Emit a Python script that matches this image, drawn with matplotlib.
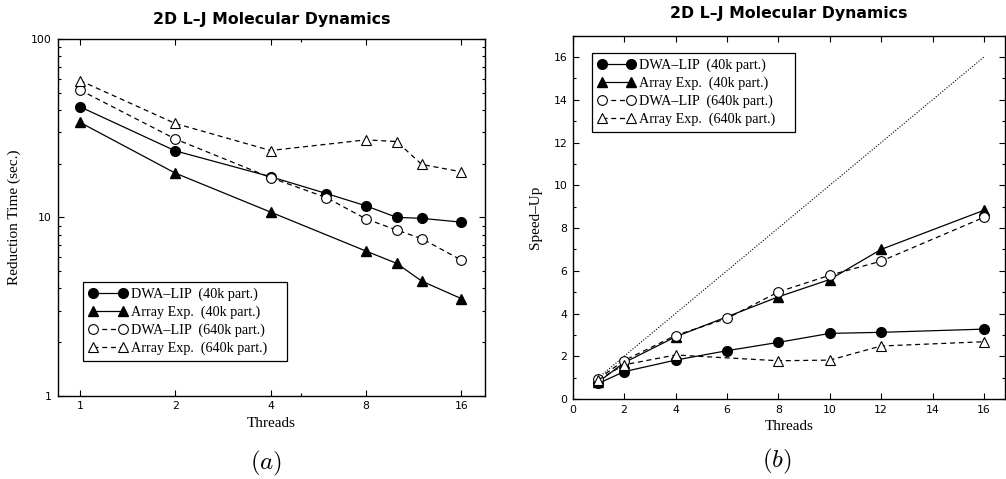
import numpy as np
import matplotlib
matplotlib.use("Agg")
import matplotlib.pyplot as plt
from matplotlib.ticker import FixedLocator, NullFormatter, MultipleLocator

plt.rcParams['mathtext.fontset'] = 'cm'

# data
thr_c = [1, 2, 4, 6, 8, 10, 12, 16]      # circle series
thr_t = [1, 2, 4, 8, 10, 12, 16]         # triangle series

# (a) reduction time, seconds
time_dwa40 = [41.7, 23.6, 16.9, 13.6, 11.6, 10.0, 9.87, 9.4]
time_arr40 = [34.1, 17.7, 10.7, 6.47, 5.52, 4.39, 3.5]
time_dwa640 = [51.8, 27.5, 16.7, 12.9, 9.8, 8.49, 7.59, 5.76]
time_arr640 = [58.5, 33.6, 23.7, 27.2, 26.6, 19.8, 18.0]

# (b) speed-up
sp_dwa40 = [0.73, 1.28, 1.82, 2.26, 2.65, 3.07, 3.12, 3.27]
sp_arr40 = [0.8, 1.7, 2.91, 4.78, 5.59, 7.0, 8.83]
sp_dwa640 = [0.95, 1.8, 2.97, 3.77, 5.01, 5.79, 6.45, 8.5]
sp_arr640 = [0.9, 1.6, 2.06, 1.79, 1.82, 2.48, 2.68]
ideal = [1, 16]

# trailing spaces give the gnuplot-like empty room at the right of the key box
labels = ['DWA\u2013LIP  (40k part.)    ', 'Array Exp.  (40k part.)    ',
          'DWA\u2013LIP  (640k part.)    ', 'Array Exp.  (640k part.)    ']

sans = 'DejaVu Sans'
serif = 'Liberation Serif'

fig = plt.figure(figsize=(10.06, 4.79), dpi=100)
ax1 = fig.add_axes([0.0572, 0.1739, 0.4249, 0.7447])
ax2 = fig.add_axes([0.5693, 0.167, 0.4302, 0.7585])

dash = (0, (4, 3))
ms = 7


def draw(ax, s1, s2, s3, s4):
    ax.plot(thr_c, s1, '-', color='k', lw=0.9, marker='o', ms=ms,
            mfc='k', mec='k', label=labels[0])
    ax.plot(thr_t, s2, '-', color='k', lw=0.9, marker='^', ms=ms,
            mfc='k', mec='k', label=labels[1])
    ax.plot(thr_c, s3, linestyle=dash, color='k', lw=0.9, marker='o', ms=ms,
            mfc='white', mec='k', mew=0.8, label=labels[2])
    ax.plot(thr_t, s4, linestyle=dash, color='k', lw=0.9, marker='^', ms=ms,
            mfc='white', mec='k', mew=0.8, label=labels[3])


def style(ax):
    ax.tick_params(which='both', direction='in', top=True, right=True,
                   labelsize=7.8, width=0.8, pad=4)
    ax.tick_params(which='major', length=4.5)
    ax.tick_params(which='minor', length=2.5)
    for lab in ax.get_xticklabels() + ax.get_yticklabels():
        lab.set_fontfamily(sans)
    for sp in ax.spines.values():
        sp.set_linewidth(1.0)


def legend(ax, **kw):
    lg = ax.legend(prop={'family': serif, 'size': 10.2}, numpoints=2,
                   handlelength=2.7, handletextpad=0.25, labelspacing=0.32,
                   borderpad=0.4, borderaxespad=0, fancybox=False,
                   framealpha=1, edgecolor='k', **kw)
    lg.get_frame().set_linewidth(0.9)


# (a)
draw(ax1, time_dwa40, time_arr40, time_dwa640, time_arr640)
ax1.set_xscale('log', base=2)
ax1.set_yscale('log')
ax1.set_xlim(0.85, 19.0)
ax1.set_ylim(1, 100)
ax1.xaxis.set_major_locator(FixedLocator([1, 2, 4, 8, 16]))
ax1.set_xticklabels(['1', '2', '4', '8', '16'])
ax1.xaxis.set_minor_locator(FixedLocator([5]))
ax1.xaxis.set_minor_formatter(NullFormatter())
ax1.yaxis.set_major_locator(FixedLocator([1, 10, 100]))
ax1.set_yticklabels(['1', '10', '100'])
ax1.yaxis.set_minor_locator(FixedLocator(
    [m * d for d in (1, 10) for m in range(2, 10)]))
ax1.yaxis.set_minor_formatter(NullFormatter())
style(ax1)
ax1.set_xlabel('Threads', family=serif, fontsize=11, labelpad=4)
ax1.set_ylabel('Reduction Time (sec.)', family=serif, fontsize=11, labelpad=7)
ax1.set_title('2D L\u2013J Molecular Dynamics', family=sans, weight='bold',
              fontsize=11.3, pad=11)
legend(ax1, loc='lower left', bbox_to_anchor=(0.06, 0.097))

# (b)
ax2.plot(ideal, ideal, linestyle=(0, (1, 1.5)), color='k', lw=0.8)
draw(ax2, sp_dwa40, sp_arr40, sp_dwa640, sp_arr640)
ax2.set_xlim(0, 16.84)
ax2.set_ylim(0, 17)
ax2.xaxis.set_major_locator(MultipleLocator(2))
ax2.yaxis.set_major_locator(MultipleLocator(2))
ax2.yaxis.set_minor_locator(MultipleLocator(1))
style(ax2)
ax2.set_xlabel('Threads', family=serif, fontsize=11, labelpad=4)
ax2.set_ylabel('Speed\u2013Up', family=serif, fontsize=11, labelpad=8)
ax2.set_title('2D L\u2013J Molecular Dynamics', family=sans, weight='bold',
              fontsize=11.3, pad=13)
legend(ax2, loc='upper left', bbox_to_anchor=(0.044, 0.952))

fig.text(266 / 1006, 1 - 463 / 479, '$(a)$', fontsize=18, ha='center', va='center')
fig.text(777 / 1006, 1 - 461 / 479, '$(b)$', fontsize=18, ha='center', va='center')

fig.savefig('out.png', dpi=100)
